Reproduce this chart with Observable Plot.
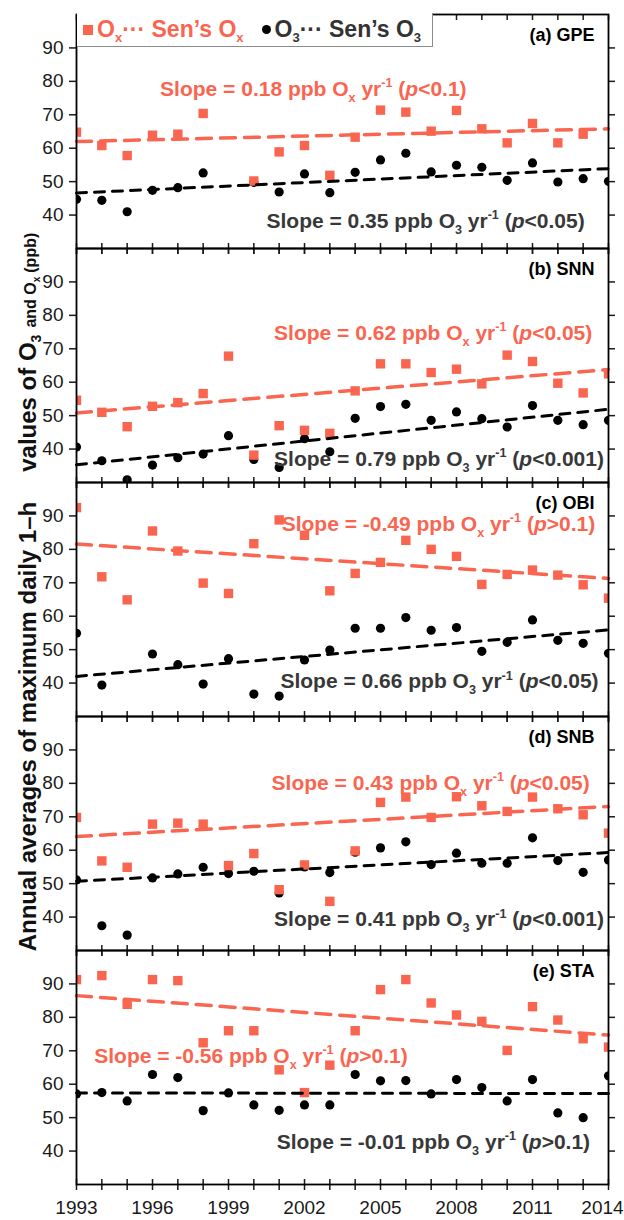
<!DOCTYPE html>
<html><head><meta charset="utf-8">
<script src="https://cdn.jsdelivr.net/npm/d3@7"></script>
<script src="https://cdn.jsdelivr.net/npm/@observablehq/plot@0.6"></script>
<style>
body{margin:0;background:#fff;}
#wrap{position:relative;width:624px;height:1220px;font-family:"Liberation Sans",Arial,sans-serif;overflow:hidden;}
#wrap > svg{position:absolute;left:0;top:0;}
#legend{position:absolute;left:77px;top:13px;width:356px;height:34px;background:#fff;border-right:1.5px solid #8c8c8c;border-bottom:1.5px solid #8c8c8c;display:flex;align-items:center;font-weight:bold;font-size:23px;white-space:nowrap;box-sizing:border-box;}
#legend sub{font-size:13px;vertical-align:-5px;line-height:0;}
#legend .sq{display:inline-block;width:10px;height:10px;background:#FA6550;margin-left:6px;margin-right:4px;}
#legend .dot{display:inline-block;width:9px;height:9px;border-radius:50%;background:#000;margin-left:18px;margin-right:4px;}
#legend .ox{color:#FA6550;}
#legend .o3{color:#333;}
</style></head>
<body><div id="wrap"></div>
<script>
const coral = "#FA6550";
const stations = ["GPE", "SNN", "OBI", "SNB", "STA"];
const panelLabels = ["(a) GPE", "(b) SNN", "(c) OBI", "(d) SNB", "(e) STA"];
const years = [1993,1994,1995,1996,1997,1998,1999,2000,2001,2002,2003,2004,2005,2006,2007,2008,2009,2010,2011,2012,2013,2014];
const labelYears = [1993,1996,1999,2002,2005,2008,2011];
const lastLabelYear = [2014];
const yTicks = [40,50,60,70,80,90];

// Annual averages (ppb), null = no data
const oxGPE = [64.8,60.8,57.8,63.9,64.2,70.4,null,50.2,58.9,60.8,51.9,63.3,71.4,70.8,65.1,71.3,65.8,61.6,67.4,61.6,64.2,null];
const o3GPE = [44.7,44.4,41.0,47.4,48.2,52.6,null,49.8,46.9,52.3,46.7,52.8,56.5,58.5,52.9,54.9,54.3,50.4,55.6,49.9,50.9,50.1];
const oxSNN = [54.6,51.0,46.7,52.8,53.9,56.6,67.8,38.2,47.0,45.6,44.7,57.4,65.5,65.5,62.9,63.9,59.5,68.1,66.2,59.7,56.8,62.5];
const o3SNN = [40.6,36.5,30.8,35.2,37.4,38.5,44.0,36.9,34.5,43.1,39.2,49.2,52.7,53.4,48.6,51.1,49.1,46.6,53.0,48.6,47.3,48.6];
const oxOBI = [92.5,71.8,64.9,85.5,79.5,69.9,66.8,81.7,88.8,84.2,67.6,72.8,76.1,82.7,80.0,77.9,69.5,72.5,73.8,72.3,69.4,65.4];
const o3OBI = [54.9,39.4,null,48.7,45.5,39.7,47.3,36.7,36.1,46.9,49.9,56.4,56.4,59.6,55.8,56.6,49.5,52.2,58.9,52.8,51.9,48.9];
const oxSNB = [69.8,56.8,54.9,67.8,68.1,67.8,55.4,59.0,48.2,55.6,44.7,59.8,74.3,75.9,69.8,76.0,73.3,71.6,75.9,72.4,70.6,65.1];
const o3SNB = [51.1,37.4,34.6,51.7,52.9,54.9,53.0,53.7,47.2,55.0,53.3,59.4,60.7,62.5,55.7,59.1,56.1,56.1,63.7,56.9,53.4,57.1];
const oxSTA = [91.3,92.5,83.9,91.3,91.0,72.4,76.0,76.0,64.3,57.5,65.7,76.0,88.3,91.3,84.3,80.7,78.8,70.1,83.2,79.2,73.6,71.1];
const o3STA = [57.1,57.5,55.0,62.9,62.0,52.1,57.4,53.8,52.2,53.8,53.8,62.9,61.0,61.1,57.1,61.4,59.0,55.0,61.4,51.4,50.0,62.5];

// Sen's slope trend lines: value at 1993 and at 2014
const oxTrendStart = [62.0, 50.8, 81.6, 64.1, 86.5];
const oxTrendEnd   = [65.8, 63.8, 71.3, 73.1, 74.7];
const o3TrendStart = [46.6, 35.3, 42.0, 50.7, 57.4];
const o3TrendEnd   = [53.9, 51.9, 55.9, 59.3, 57.2];

// Annotation texts (markup: _x subscript, ^-1 superscript, *p* italic)
const oxSlopeText = ["Slope = 0.18 ppb O_x yr^-1 (*p*<0.1)", "Slope = 0.62 ppb O_x yr^-1 (*p*<0.05)", "Slope = -0.49 ppb O_x yr^-1 (*p*>0.1)", "Slope = 0.43 ppb O_x yr^-1 (*p*<0.05)", "Slope = -0.56 ppb O_x yr^-1 (*p*>0.1)"];
const o3SlopeText = ["Slope = 0.35 ppb O_3 yr^-1 (*p*<0.05)", "Slope = 0.79 ppb O_3 yr^-1 (*p*<0.001)", "Slope = 0.66 ppb O_3 yr^-1 (*p*<0.05)", "Slope = 0.41 ppb O_3 yr^-1 (*p*<0.001)", "Slope = -0.01 ppb O_3 yr^-1 (*p*>0.1)"];
// annotation anchors in data units (year, ppb)
const oxLabelYear = [1996.3, 2000.8, 2001.1, 2000.7, 1993.7];
const oxLabelPpb  = [77.7, 74.6, 87.5, 80.0, 68.3];
const o3LabelYear = [2000.5, 2000.8, 2001.05, 2000.8, 2000.9];
const o3LabelPpb  = [38.2, 36.9, 40.4, 39.2, 42.7];

const oxAll = [oxGPE, oxSNN, oxOBI, oxSNB, oxSTA];
const o3All = [o3GPE, o3SNN, o3OBI, o3SNB, o3STA];

const obs = [];
stations.forEach((s, i) => years.forEach((y, j) => obs.push({station: s, year: y, ox: oxAll[i][j], o3: o3All[i][j]})));
const trends = [];
stations.forEach((s, i) => {
  trends.push({station: s, species: "ox", year: years[0], v: oxTrendStart[i]});
  trends.push({station: s, species: "ox", year: years[years.length-1], v: oxTrendEnd[i]});
  trends.push({station: s, species: "o3", year: years[0], v: o3TrendStart[i]});
  trends.push({station: s, species: "o3", year: years[years.length-1], v: o3TrendEnd[i]});
});
const oxLabels = stations.map((s, i) => ({station: s, text: oxSlopeText[i], year: oxLabelYear[i], v: oxLabelPpb[i]}));
const o3Labels = stations.map((s, i) => ({station: s, text: o3SlopeText[i], year: o3LabelYear[i], v: o3LabelPpb[i]}));
const panels = stations.map((s, i) => ({station: s, label: panelLabels[i]}));

const blank = () => "";
const chart = Plot.plot({
  width: 624, height: 1220,
  marginLeft: 76, marginRight: 16, marginTop: 12, marginBottom: 35,
  style: {fontFamily: "'Liberation Sans', Arial, sans-serif", background: "transparent", color: "#1a1a1a", overflow: "visible"},
  x: {domain: [1993, 2014], label: null},
  y: {domain: [30, 100], label: null},
  fy: {domain: stations, padding: 0, axis: null, label: null},
  marks: [
    Plot.dot(obs.filter(d => d.o3 != null), {x: "year", y: "o3", fy: "station", r: 4.6, fill: "black", clip: true}),
    Plot.dot(obs.filter(d => d.ox != null), {x: "year", y: "ox", fy: "station", symbol: "square", r: 5.3, fill: coral, clip: true}),
    Plot.line(trends.filter(d => d.species === "ox"), {x: "year", y: "v", fy: "station", stroke: coral, strokeWidth: 3.5, strokeDasharray: "15,9"}),
    Plot.line(trends.filter(d => d.species === "o3"), {x: "year", y: "v", fy: "station", stroke: "black", strokeWidth: 3, strokeDasharray: "10,8"}),
    Plot.text(oxLabels, {x: "year", y: "v", fy: "station", text: "text", textAnchor: "start", lineAnchor: "middle", fill: coral, fontSize: 21, fontWeight: "bold"}),
    Plot.text(o3Labels, {x: "year", y: "v", fy: "station", text: "text", textAnchor: "start", lineAnchor: "middle", fill: "#383838", fontSize: 21, fontWeight: "bold"}),
    Plot.text(panels, {fy: "station", text: "label", frameAnchor: "top-right", textAnchor: "end", lineAnchor: "middle", dx: -14, dy: 21, fontSize: 18, fontWeight: "bold", fill: "black"}),
    Plot.axisY({anchor: "left", ticks: yTicks, tickSize: 7, tickPadding: 6, fontSize: 19, strokeWidth: 1.5, label: null, tickFormat: d3.format("d")}),
    Plot.axisY({anchor: "right", ticks: yTicks, tickSize: 6, strokeWidth: 1.5, label: null, tickFormat: blank}),
    Plot.axisX({anchor: "bottom", ticks: years, tickSize: 6, strokeWidth: 1.5, label: null, tickFormat: blank, facetAnchor: null}),
    Plot.axisX({anchor: "bottom", ticks: years, tickSize: -5, strokeWidth: 1.5, label: null, tickFormat: blank, facetAnchor: null}),
    Plot.axisX({anchor: "top", ticks: years, tickSize: -5, strokeWidth: 1.5, label: null, tickFormat: blank, facetAnchor: null}),
    Plot.axisX({anchor: "bottom", ticks: labelYears, tickSize: 0, tickPadding: 16, fontSize: 19, label: null, tickFormat: d3.format("d")}),
    Plot.axisX({anchor: "bottom", ticks: lastLabelYear, tickSize: 0, tickPadding: 16, fontSize: 19, label: null, tickFormat: d3.format("d"), dx: -6}),
    Plot.frame({stroke: "black", strokeWidth: 1.8})
  ]
});

const wrap = document.getElementById("wrap");
wrap.appendChild(chart);

// rich text: subscripts, superscripts, italic p
const NS = "http://www.w3.org/2000/svg";
chart.querySelectorAll("text").forEach(t => {
  const s = t.textContent;
  if (!/[_^*]/.test(s)) return;
  const fs = parseFloat(getComputedStyle(t).fontSize) || 21;
  const parts = s.split(/(_[x3]|\^-1|\*p\*)/);
  t.textContent = "";
  let cur = 0;
  for (const p of parts) {
    if (!p) continue;
    const ts = document.createElementNS(NS, "tspan");
    let off = 0, txt = p;
    if (p[0] === "_") { off = fs * 0.28; txt = p.slice(1); ts.setAttribute("font-size", (fs * 0.6).toFixed(1)); }
    else if (p === "^-1") { off = -fs * 0.42; txt = "-1"; ts.setAttribute("font-size", (fs * 0.6).toFixed(1)); }
    else if (p === "*p*") { txt = "p"; ts.setAttribute("font-style", "italic"); }
    if (off !== cur) ts.setAttribute("dy", (off - cur).toFixed(2));
    cur = off;
    ts.textContent = txt;
    t.appendChild(ts);
  }
});

// Legend
const legend = document.createElement("div");
legend.id = "legend";
legend.innerHTML = '<span class="sq"></span><span class="ox">O<sub>x</sub>\u00B7\u00B7\u00B7 Sen\u2019s O<sub>x</sub></span><span class="dot"></span><span class="o3">O<sub>3</sub>\u00B7\u00B7\u00B7 Sen\u2019s O<sub>3</sub></span>';
wrap.appendChild(legend);

// Y-axis title
const ysvg = d3.select(wrap).append("svg").attr("width", 50).attr("height", 1220).style("left", "0px").style("top", "0px");
const yt = ysvg.append("text")
  .attr("transform", "translate(36,592) rotate(-90)")
  .attr("text-anchor", "middle")
  .attr("font-family", "'Liberation Sans', Arial, sans-serif")
  .attr("font-weight", "bold").attr("font-size", 24).attr("fill", "#111");
yt.append("tspan").text("Annual averages of maximum daily 1\u2013h");
yt.append("tspan").attr("dx", 30).text("values of O");
yt.append("tspan").attr("font-size", 14).attr("dy", 5).text("3");
yt.append("tspan").attr("font-size", 16).attr("dy", -5).attr("dx", 7).text("and O");
yt.append("tspan").attr("font-size", 10).attr("dy", 4).text("x");
yt.append("tspan").attr("font-size", 16).attr("dy", -4).attr("dx", 4).text("(ppb)");
</script>
</body></html>
